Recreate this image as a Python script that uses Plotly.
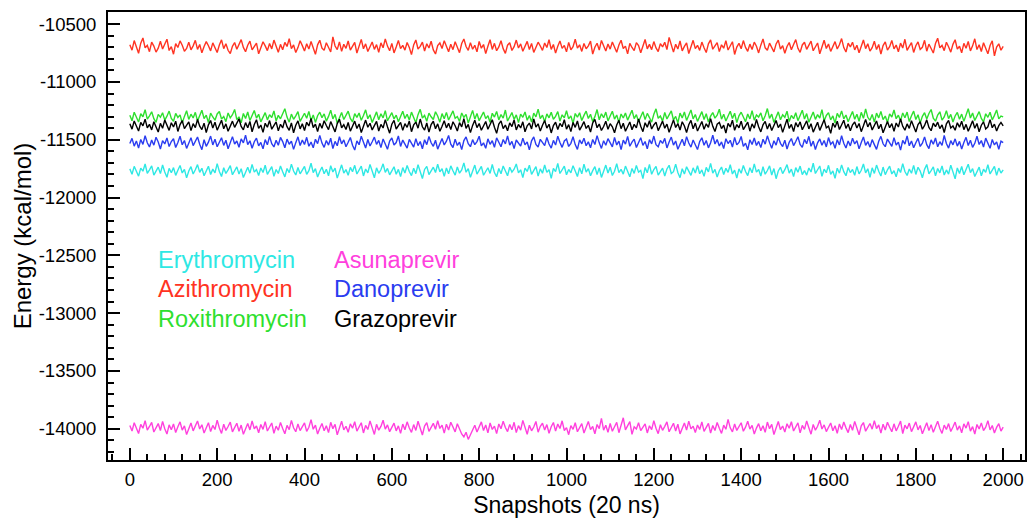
import plotly.graph_objects as go

# Interaction energies, one value every 5 snapshots (0 .. 2000)
SNAPSHOT_STEP = 5

erythromycin = [
    -11752, -11798, -11730, -11781, -11815, -11745, -11772, -11710, -11790, -11760,
    -11726, -11806, -11768, -11737, -11793, -11718, -11779, -11824, -11748, -11785,
    -11741, -11808, -11763, -11722, -11787, -11756, -11830, -11770, -11733, -11796,
    -11759, -11715, -11782, -11747, -11812, -11766, -11729, -11801, -11754, -11786,
    -11706, -11775, -11818, -11742, -11791, -11761, -11724, -11803, -11769, -11735,
    -11797, -11751, -11827, -11773, -11738, -11789, -11713, -11780, -11758, -11810,
    -11744, -11783, -11720, -11799, -11764, -11732, -11816, -11757, -11792, -11727,
    -11776, -11821, -11749, -11785, -11711, -11771, -11805, -11740, -11795, -11762,
    -11731, -11800, -11767, -11703, -11784, -11750, -11822, -11774, -11736, -11794,
    -11755, -11812, -11725, -11779, -11745, -11832, -11763, -11717, -11788, -11758,
    -11808, -11739, -11777, -11721, -11796, -11766, -11728, -11813, -11753, -11786,
    -11714, -11770, -11829, -11743, -11790, -11760, -11708, -11782, -11748, -11804,
    -11771, -11734, -11798, -11756, -11819, -11741, -11787, -11723, -11775, -11810,
    -11746, -11793, -11716, -11769, -11835, -11757, -11730, -11801, -11764, -11737,
    -11783, -11712, -11778, -11751, -11817, -11744, -11795, -11726, -11768, -11806,
    -11735, -11789, -11761, -11700, -11781, -11750, -11825, -11773, -11719, -11797,
    -11762, -11730, -11807, -11776, -11742, -11791, -11714, -11784, -11820, -11749,
    -11794, -11727, -11768, -11811, -11738, -11780, -11755, -11709, -11787, -11760,
    -11828, -11745, -11774, -11720, -11799, -11766, -11733, -11815, -11752, -11790,
    -11718, -11782, -11759, -11834, -11747, -11776, -11705, -11792, -11763, -11729,
    -11803, -11757, -11786, -11724, -11770, -11818, -11741, -11795, -11711, -11779,
    -11750, -11812, -11767, -11732, -11800, -11744, -11826, -11761, -11719, -11788,
    -11737, -11809, -11773, -11707, -11784, -11756, -11797, -11728, -11771, -11821,
    -11748, -11791, -11722, -11780, -11765, -11836, -11740, -11785, -11713, -11799,
    -11758, -11731, -11806, -11769, -11745, -11814, -11753, -11721, -11792, -11776,
    -11711, -11783, -11828, -11751, -11797, -11734, -11772, -11808, -11743, -11787,
    -11725, -11794, -11761, -11817, -11739, -11778, -11704, -11789, -11756, -11823,
    -11768, -11736, -11801, -11747, -11782, -11716, -11796, -11763, -11831, -11752,
    -11790, -11723, -11775, -11810, -11742, -11786, -11709, -11780, -11757, -11814,
    -11733, -11798, -11766, -11726, -11805, -11749, -11837, -11770, -11738, -11793,
    -11759, -11715, -11788, -11754, -11819, -11741, -11781, -11728, -11802, -11767,
    -11806, -11744, -11779, -11702, -11792, -11762, -11727, -11816, -11755, -11785,
    -11721, -11799, -11770, -11833, -11746, -11789, -11717, -11776, -11811, -11740,
    -11784, -11757, -11807, -11732, -11795, -11764, -11710, -11787, -11751, -11825,
    -11743, -11791, -11719, -11773, -11814, -11736, -11802, -11760, -11729, -11796,
    -11768, -11821, -11747, -11783, -11706, -11775, -11809, -11753, -11790, -11722,
    -11800, -11738, -11771, -11829, -11756, -11714, -11794, -11767, -11734, -11812,
    -11749, -11786, -11726, -11805, -11761, -11797, -11720, -11778, -11838, -11744,
    -11792, -11731, -11803, -11758, -11712, -11784, -11750, -11818, -11769, -11737,
    -11811, -11755, -11782, -11716, -11796, -11763, -11730, -11808, -11745, -11788,
    -11760,
]

azithromycin = [
    -10678, -10725, -10642, -10698, -10752, -10665, -10620, -10705, -10684, -10738,
    -10655, -10690, -10742, -10708, -10648, -10715, -10672, -10630, -10728, -10695,
    -10760, -10668, -10702, -10645, -10683, -10735, -10710, -10656, -10722, -10688,
    -10640, -10719, -10676, -10748, -10694, -10651, -10687, -10731, -10662, -10705,
    -10745, -10681, -10636, -10712, -10670, -10726, -10754, -10692, -10659, -10717,
    -10673, -10634, -10701, -10739, -10682, -10647, -10723, -10696, -10664, -10757,
    -10706, -10652, -10688, -10729, -10667, -10714, -10638, -10699, -10744, -10675,
    -10721, -10658, -10693, -10626, -10711, -10680, -10746, -10703, -10644, -10686,
    -10733, -10669, -10716, -10650, -10697, -10761, -10679, -10639, -10707, -10727,
    -10661, -10700, -10741, -10610, -10689, -10720, -10653, -10736, -10674, -10709,
    -10646, -10724, -10691, -10657, -10750, -10685, -10632, -10713, -10671, -10737,
    -10699, -10654, -10718, -10677, -10743, -10662, -10704, -10628, -10690, -10730,
    -10666, -10749, -10697, -10641, -10712, -10684, -10725, -10659, -10702, -10764,
    -10680, -10637, -10715, -10692, -10655, -10732, -10670, -10706, -10648, -10723,
    -10758, -10686, -10663, -10711, -10643, -10698, -10739, -10674, -10721, -10652,
    -10703, -10747, -10668, -10629, -10694, -10726, -10660, -10717, -10683, -10740,
    -10650, -10708, -10676, -10755, -10691, -10635, -10719, -10666, -10730, -10697,
    -10644, -10712, -10753, -10682, -10661, -10728, -10695, -10638, -10706, -10671,
    -10734, -10687, -10649, -10720, -10667, -10745, -10701, -10656, -10689, -10727,
    -10663, -10702, -10635, -10718, -10676, -10751, -10692, -10645, -10710, -10684,
    -10740, -10658, -10722, -10695, -10631, -10707, -10679, -10736, -10668, -10713,
    -10688, -10647, -10759, -10700, -10665, -10724, -10641, -10696, -10733, -10672,
    -10716, -10654, -10699, -10743, -10681, -10639, -10711, -10690, -10757, -10667,
    -10702, -10729, -10660, -10685, -10748, -10693, -10633, -10714, -10675, -10721,
    -10651, -10706, -10737, -10669, -10697, -10657, -10720, -10615, -10688, -10742,
    -10674, -10715, -10646, -10731, -10693, -10662, -10754, -10699, -10640, -10712,
    -10683, -10727, -10655, -10704, -10746, -10670, -10636, -10717, -10692, -10660,
    -10738, -10679, -10708, -10643, -10724, -10687, -10652, -10762, -10698, -10666,
    -10713, -10642, -10701, -10735, -10673, -10719, -10656, -10691, -10749, -10682,
    -10628, -10705, -10726, -10664, -10696, -10740, -10671, -10638, -10716, -10686,
    -10752, -10693, -10659, -10722, -10677, -10634, -10709, -10744, -10680, -10657,
    -10718, -10684, -10647, -10730, -10700, -10663, -10756, -10689, -10639, -10711,
    -10672, -10736, -10694, -10651, -10715, -10678, -10625, -10703, -10741, -10665,
    -10697, -10656, -10723, -10682, -10747, -10690, -10637, -10712, -10669, -10733,
    -10703, -10648, -10720, -10676, -10758, -10686, -10653, -10725, -10695, -10641,
    -10714, -10681, -10739, -10664, -10706, -10631, -10727, -10692, -10660, -10745,
    -10687, -10654, -10718, -10700, -10640, -10734, -10673, -10711, -10750, -10668,
    -10622, -10705, -10684, -10729, -10657, -10696, -10742, -10675, -10635, -10716,
    -10691, -10748, -10666, -10709, -10650, -10731, -10688, -10627, -10720, -10679,
    -10737, -10661, -10702, -10756, -10685, -10644, -10775, -10698, -10670, -10726,
    -10692,
]

roxithromycin = [
    -11288, -11336, -11262, -11310, -11347, -11275, -11301, -11240, -11322, -11293,
    -11258, -11318, -11349, -11281, -11305, -11266, -11330, -11296, -11252, -11315,
    -11340, -11272, -11307, -11285, -11355, -11298, -11249, -11324, -11279, -11312,
    -11263, -11338, -11294, -11245, -11317, -11287, -11352, -11270, -11303, -11331,
    -11277, -11256, -11321, -11299, -11343, -11268, -11310, -11284, -11238, -11326,
    -11302, -11354, -11273, -11316, -11260, -11334, -11291, -11247, -11313, -11280,
    -11345, -11296, -11265, -11328, -11283, -11308, -11251, -11337, -11289, -11319,
    -11267, -11232, -11304, -11348, -11278, -11323, -11294, -11257, -11341, -11300,
    -11271, -11314, -11255, -11333, -11286, -11350, -11292, -11262, -11309, -11276,
    -11339, -11298, -11244, -11320, -11281, -11357, -11303, -11264, -11325, -11288,
    -11253, -11315, -11346, -11274, -11306, -11269, -11332, -11291, -11241, -11318,
    -11284, -11351, -11297, -11259, -11327, -11276, -11311, -11248, -11336, -11293,
    -11266, -11320, -11287, -11344, -11302, -11254, -11316, -11279, -11330, -11261,
    -11308, -11353, -11283, -11237, -11312, -11290, -11340, -11270, -11301, -11325,
    -11258, -11295, -11348, -11274, -11319, -11263, -11329, -11286, -11250, -11314,
    -11299, -11342, -11268, -11307, -11281, -11356, -11296, -11246, -11322, -11273,
    -11335, -11289, -11260, -11317, -11292, -11349, -11271, -11304, -11255, -11328,
    -11282, -11313, -11243, -11338, -11297, -11265, -11324, -11285, -11352, -11278,
    -11306, -11259, -11331, -11290, -11347, -11269, -11302, -11235, -11318, -11287,
    -11345, -11276, -11310, -11262, -11323, -11298, -11256, -11339, -11284, -11311,
    -11249, -11320, -11293, -11358, -11273, -11305, -11266, -11334, -11289, -11252,
    -11316, -11280, -11343, -11300, -11239, -11327, -11275, -11309, -11261, -11337,
    -11295, -11254, -11321, -11286, -11350, -11277, -11312, -11268, -11330, -11290,
    -11245, -11317, -11283, -11344, -11303, -11258, -11326, -11272, -11308, -11348,
    -11279, -11233, -11314, -11294, -11339, -11264, -11320, -11287, -11251, -11329,
    -11298, -11355, -11270, -11311, -11260, -11333, -11291, -11242, -11319, -11282,
    -11341, -11301, -11257, -11325, -11275, -11347, -11296, -11265, -11313, -11288,
    -11236, -11322, -11280, -11338, -11297, -11254, -11316, -11271, -11352, -11293,
    -11262, -11309, -11344, -11277, -11320, -11248, -11331, -11285, -11304, -11267,
    -11336, -11292, -11230, -11315, -11278, -11350, -11299, -11259, -11327, -11284,
    -11306, -11253, -11342, -11289, -11318, -11266, -11335, -11296, -11244, -11321,
    -11274, -11349, -11301, -11260, -11324, -11283, -11312, -11240, -11337, -11290,
    -11265, -11328, -11294, -11356, -11271, -11308, -11250, -11319, -11286, -11345,
    -11299, -11256, -11323, -11279, -11340, -11263, -11315, -11234, -11306, -11332,
    -11281, -11347, -11270, -11311, -11255, -11326, -11295, -11351, -11276, -11303,
    -11243, -11318, -11288, -11336, -11268, -11309, -11261, -11343, -11292, -11252,
    -11325, -11284, -11354, -11297, -11266, -11320, -11273, -11238, -11314, -11339,
    -11287, -11258, -11330, -11302, -11249, -11317, -11280, -11346, -11294, -11264,
    -11323, -11278, -11341, -11290, -11231, -11312, -11269, -11334, -11298, -11257,
    -11316, -11346, -11275, -11306, -11262, -11328, -11289, -11242, -11320, -11296,
    -11302,
]

asunaprevir = [
    -13972, -14020, -13948, -14003, -14041, -13962, -13995, -13930, -14012, -13980,
    -13945, -14028, -13988, -13955, -14015, -13936, -13999, -14046, -13966, -14008,
    -13958, -14032, -13983, -13940, -14011, -13975, -14050, -13990, -13950, -14018,
    -13978, -13932, -14002, -13965, -14037, -13986, -13947, -14024, -13971, -14006,
    -13925, -13993, -14040, -13960, -14014, -13980, -13942, -14027, -13989, -13952,
    -14021, -13968, -14048, -13994, -13955, -14010, -13931, -14000, -13976, -14034,
    -13963, -14005, -13938, -14019, -13984, -13950, -14039, -13977, -14013, -13946,
    -13997, -14043, -13970, -14007, -13928, -13991, -14026, -13958, -14016, -13982,
    -13949, -14022, -13987, -13921, -14004, -13969, -14045, -13995, -13954, -14017,
    -13974, -14033, -13944, -13999, -13962, -14052, -13985, -13935, -14009, -13978,
    -14030, -13957, -13996, -13939, -14020, -13986, -13948, -14036, -13971, -14006,
    -13933, -13990, -14049, -13961, -14012, -13979, -13926, -14003, -13966, -14025,
    -13992, -13951, -14018, -13975, -14040, -13959, -14008, -13940, -13993, -14031,
    -13964, -14014, -13935, -13988, -14054, -13976, -13947, -14022, -13983, -13953,
    -14004, -13929, -13997, -13968, -14038, -13960, -14011, -13943, -13985, -14027,
    -13956, -14001, -14045, -14070, -14030, -14092, -14050, -14010, -13970, -14028,
    -13981, -13940, -14015, -13967, -14035, -13950, -14006, -13977, -14042, -13958,
    -14000, -13934, -13989, -14024, -13962, -14009, -13944, -14033, -13973, -14012,
    -13927, -13996, -14047, -13969, -14018, -13985, -13937, -14029, -13979, -13952,
    -14011, -13964, -14039, -13982, -13946, -14020, -13958, -13998, -13931, -14015,
    -13990, -14051, -13972, -14005, -13948, -14026, -13986, -13955, -14037, -13976,
    -13936, -14007, -13980, -14043, -13963, -13998, -13910, -14012, -13970, -14030,
    -13954, -14021, -13987, -13944, -14034, -13975, -13905, -14009, -13966, -13938,
    -14048, -13983, -14002, -13947, -14016, -13991, -13957, -14036, -13974, -14008,
    -13930, -13995, -14042, -13965, -14013, -13979, -13940, -14026, -13988, -13952,
    -14019, -13961, -14044, -13993, -13950, -14011, -13934, -14001, -13977, -14032,
    -13967, -14006, -13941, -14023, -13985, -13953, -14038, -13972, -14015, -13945,
    -13996, -14040, -13969, -14004, -13918, -13992, -14027, -13959, -14014, -13980,
    -13948, -14021, -13986, -13935, -14003, -13970, -14046, -13994, -13955, -14017,
    -13973, -14031, -13942, -13999, -13961, -14050, -13984, -13937, -14008, -13976,
    -14028, -13956, -13995, -13939, -14019, -13987, -13949, -14035, -13971, -14005,
    -13932, -13991, -14047, -13962, -14012, -13978, -13926, -14002, -13966, -14024,
    -13993, -13950, -14017, -13974, -14039, -13958, -14007, -13941, -13992, -14033,
    -13963, -14013, -13936, -13989, -14052, -13975, -13946, -14021, -13982, -13954,
    -14003, -13930, -13998, -13967, -14037, -13960, -14010, -13944, -13986, -14026,
    -13957, -14018, -13978, -13933, -14041, -13969, -14000, -13951, -14025, -13983,
    -13940, -14009, -13972, -14044, -13990, -13947, -14016, -13964, -14031, -13979,
    -13934, -13997, -14040, -13968, -14006, -13955, -14023, -13985, -13942, -14012,
    -13975, -14034, -13958, -13994, -13938, -14020, -13981, -14045, -13963, -14001,
    -13949, -14015, -13986, -13930, -14010, -13972, -14036, -13988, -13956, -14020,
    -13985,
]

danoprevir = [
    -11532, -11488, -11555, -11510, -11572, -11497, -11540, -11465, -11526, -11563,
    -11502, -11547, -11478, -11519, -11580, -11508, -11536, -11484, -11559, -11515,
    -11491, -11567, -11524, -11470, -11543, -11506, -11575, -11528, -11482, -11551,
    -11513, -11476, -11538, -11586, -11500, -11557, -11521, -11468, -11545, -11495,
    -11561, -11518, -11483, -11549, -11504, -11578, -11530, -11473, -11537, -11511,
    -11565, -11492, -11527, -11460, -11542, -11509, -11574, -11517, -11486, -11553,
    -11523, -11579, -11499, -11544, -11471, -11534, -11562, -11505, -11548, -11480,
    -11516, -11569, -11494, -11539, -11512, -11583, -11525, -11475, -11550, -11503,
    -11541, -11479, -11556, -11520, -11570, -11496, -11533, -11462, -11529, -11566,
    -11507, -11546, -11487, -11576, -11514, -11552, -11474, -11535, -11501, -11560,
    -11522, -11481, -11548, -11589, -11510, -11543, -11469, -11531, -11571, -11498,
    -11554, -11517, -11477, -11540, -11506, -11568, -11493, -11537, -11582, -11511,
    -11485, -11546, -11524, -11467, -11558, -11503, -11535, -11573, -11497, -11528,
    -11564, -11490, -11551, -11515, -11578, -11500, -11542, -11472, -11526, -11557,
    -11504, -11581, -11530, -11489, -11545, -11512, -11463, -11538, -11567, -11495,
    -11549, -11521, -11585, -11507, -11476, -11534, -11560, -11499, -11543, -11516,
    -11470, -11553, -11527, -11574, -11492, -11539, -11508, -11565, -11483, -11525,
    -11561, -11498, -11536, -11466, -11547, -11514, -11577, -11502, -11532, -11555,
    -11487, -11544, -11519, -11588, -11509, -11475, -11540, -11563, -11496, -11529,
    -11550, -11480, -11537, -11572, -11505, -11546, -11469, -11524, -11566, -11510,
    -11493, -11558, -11531, -11474, -11542, -11583, -11501, -11535, -11486, -11552,
    -11518, -11569, -11497, -11541, -11464, -11527, -11575, -11508, -11548, -11490,
    -11533, -11561, -11479, -11545, -11512, -11586, -11503, -11538, -11471, -11556,
    -11521, -11494, -11567, -11530, -11482, -11549, -11515, -11579, -11499, -11536,
    -11468, -11543, -11560, -11506, -11532, -11488, -11571, -11520, -11477, -11547,
    -11511, -11582, -11535, -11495, -11552, -11473, -11528, -11564, -11502, -11540,
    -11585, -11516, -11483, -11548, -11507, -11570, -11526, -11461, -11537, -11498,
    -11554, -11519, -11576, -11491, -11533, -11505, -11563, -11480, -11544, -11523,
    -11472, -11557, -11529, -11587, -11500, -11541, -11485, -11550, -11514, -11568,
    -11496, -11538, -11466, -11525, -11573, -11509, -11546, -11478, -11531, -11559,
    -11503, -11580, -11522, -11489, -11551, -11515, -11474, -11540, -11566, -11497,
    -11534, -11470, -11556, -11512, -11584, -11527, -11493, -11547, -11506, -11562,
    -11481, -11539, -11518, -11574, -11500, -11545, -11465, -11530, -11571, -11510,
    -11553, -11487, -11536, -11508, -11579, -11524, -11476, -11549, -11516, -11564,
    -11499, -11542, -11583, -11513, -11471, -11535, -11560, -11494, -11528, -11557,
    -11482, -11546, -11520, -11590, -11505, -11537, -11467, -11552, -11511, -11569,
    -11526, -11488, -11558, -11530, -11475, -11543, -11576, -11501, -11539, -11485,
    -11561, -11517, -11548, -11463, -11532, -11572, -11508, -11544, -11492, -11555,
    -11514, -11580, -11523, -11479, -11550, -11504, -11566, -11531, -11470, -11541,
    -11507, -11563, -11486, -11536, -11574, -11498, -11545, -11519, -11582, -11512,
    -11525,
]

grazoprevir = [
    -11362, -11408, -11338, -11391, -11425, -11350, -11380, -11322, -11397, -11367,
    -11415, -11344, -11386, -11433, -11358, -11401, -11329, -11374, -11419, -11353,
    -11390, -11340, -11428, -11369, -11335, -11404, -11378, -11346, -11421, -11361,
    -11395, -11325, -11383, -11412, -11356, -11438, -11371, -11333, -11399, -11348,
    -11417, -11376, -11331, -11405, -11363, -11427, -11388, -11339, -11393, -11359,
    -11320, -11384, -11414, -11352, -11397, -11342, -11431, -11368, -11327, -11402,
    -11373, -11436, -11357, -11392, -11334, -11409, -11379, -11345, -11423, -11366,
    -11398, -11328, -11387, -11418, -11354, -11440, -11375, -11337, -11406, -11362,
    -11420, -11349, -11381, -11316, -11394, -11365, -11429, -11358, -11401, -11336,
    -11377, -11413, -11343, -11389, -11432, -11360, -11323, -11396, -11370, -11411,
    -11351, -11426, -11385, -11339, -11403, -11364, -11437, -11374, -11330, -11392,
    -11357, -11415, -11382, -11341, -11424, -11368, -11398, -11326, -11387, -11443,
    -11366, -11332, -11407, -11378, -11350, -11419, -11361, -11393, -11338, -11430,
    -11372, -11347, -11400, -11321, -11388, -11416, -11355, -11434, -11369, -11340,
    -11405, -11363, -11427, -11383, -11335, -11397, -11358, -11412, -11344, -11379,
    -11424, -11352, -11389, -11318, -11401, -11367, -11438, -11376, -11331, -11395,
    -11360, -11418, -11384, -11342, -11409, -11371, -11327, -11392, -11445, -11365,
    -11337, -11403, -11373, -11422, -11354, -11386, -11329, -11415, -11368, -11398,
    -11345, -11431, -11380, -11356, -11406, -11319, -11390, -11362, -11425, -11374,
    -11334, -11399, -11366, -11441, -11378, -11348, -11411, -11359, -11387, -11326,
    -11408, -11369, -11429, -11351, -11393, -11338, -11417, -11382, -11343, -11402,
    -11375, -11433, -11355, -11324, -11396, -11364, -11420, -11385, -11340, -11410,
    -11361, -11388, -11439, -11372, -11332, -11404, -11357, -11426, -11379, -11346,
    -11414, -11367, -11397, -11320, -11383, -11430, -11353, -11391, -11336, -11407,
    -11372, -11348, -11421, -11386, -11339, -11400, -11365, -11435, -11376, -11328,
    -11394, -11360, -11416, -11344, -11381, -11437, -11370, -11333, -11405, -11356,
    -11425, -11377, -11342, -11410, -11362, -11392, -11317, -11384, -11428, -11366,
    -11350, -11403, -11374, -11442, -11358, -11389, -11330, -11418, -11369, -11396,
    -11339, -11412, -11380, -11347, -11426, -11363, -11399, -11325, -11387, -11432,
    -11371, -11341, -11408, -11359, -11420, -11382, -11334, -11395, -11364, -11436,
    -11378, -11322, -11401, -11367, -11429, -11352, -11390, -11345, -11413, -11373,
    -11337, -11406, -11361, -11434, -11384, -11349, -11419, -11368, -11327, -11397,
    -11382, -11444, -11356, -11393, -11340, -11411, -11375, -11331, -11402, -11364,
    -11423, -11370, -11346, -11398, -11359, -11430, -11379, -11324, -11389, -11351,
    -11415, -11373, -11338, -11405, -11366, -11439, -11381, -11343, -11396, -11360,
    -11426, -11355, -11390, -11320, -11384, -11417, -11363, -11402, -11335, -11377,
    -11433, -11369, -11344, -11409, -11376, -11328, -11394, -11422, -11357, -11386,
    -11348, -11404, -11371, -11437, -11362, -11332, -11398, -11380, -11418, -11353,
    -11391, -11340, -11413, -11367, -11427, -11382, -11336, -11400, -11359, -11431,
    -11374, -11345, -11407, -11388, -11326, -11396, -11365, -11424, -11378, -11350,
    -11380,
]

# Axis tick positions and their printed labels
x_ticks = [0, 200, 400, 600, 800, 1000, 1200, 1400, 1600, 1800, 2000]
y_ticks = [-14000, -13500, -13000, -12500, -12000, -11500, -11000, -10500]
y_tick_labels = ["-14000", "-13500", "-13000", "-12500", "-12000", "-11500", "-11000", "-10500"]

# (name, values, colour, legend column, legend row)
series = [
    ("Erythromycin", erythromycin, "#2ee8e4", 0, 0),
    ("Azithromycin", azithromycin, "#ff3322", 0, 1),
    ("Roxithromycin", roxithromycin, "#2edf2e", 0, 2),
    ("Asunaprevir", asunaprevir, "#ff40dd", 1, 0),
    ("Danoprevir", danoprevir, "#2a3cf0", 1, 1),
    ("Grazoprevir", grazoprevir, "#000000", 1, 2),
]

# Text legend placement in data units
legend_x = [60, 463]
legend_y = [-12540, -12795, -13050]

FONT = "Liberation Sans, Arial, Helvetica, sans-serif"

fig = go.Figure()
for name, values, color, col, row in series:
    fig.add_trace(go.Scatter(
        x=[SNAPSHOT_STEP * i for i in range(len(values))], y=values,
        mode="lines", name=name,
        line=dict(color=color, width=1.4),
    ))
    fig.add_annotation(
        x=legend_x[col], y=legend_y[row], xref="x", yref="y",
        text=name, showarrow=False, xanchor="left", yanchor="middle",
        font=dict(family=FONT, size=23.5, color=color),
    )

axis_common = dict(
    showline=True, linecolor="black", linewidth=2, mirror=True,
    showgrid=False, zeroline=False,
    ticks="inside", ticklen=12, tickwidth=2, tickcolor="black",
    tickfont=dict(family=FONT, size=18.5, color="black"),
)

fig.update_xaxes(
    range=[-50, 2050], tickmode="array", tickvals=x_ticks,
    minor=dict(tickmode="linear", ticks="inside", ticklen=6, tickwidth=1.5,
               dtick=40, tick0=0, tickcolor="black"),
    title=dict(text="Snapshots (20 ns)", font=dict(family=FONT, size=23, color="black"), standoff=8),
    ticklabelstandoff=2,
    **axis_common,
)
fig.update_yaxes(
    range=[-14270, -10395], tickmode="array", tickvals=y_ticks, ticktext=y_tick_labels,
    minor=dict(tickmode="linear", ticks="inside", ticklen=6, tickwidth=1.5,
               dtick=100, tick0=-14000, tickcolor="black"),
    title=dict(text="Energy (kcal/mol)", font=dict(family=FONT, size=24, color="black"), standoff=0),
    ticklabelstandoff=6,
    **axis_common,
)

fig.update_layout(
    width=1031, height=522,
    margin=dict(l=108, r=4, t=12, b=62),
    plot_bgcolor="white", paper_bgcolor="white",
    showlegend=False,
)

fig.write_html("out.html")
